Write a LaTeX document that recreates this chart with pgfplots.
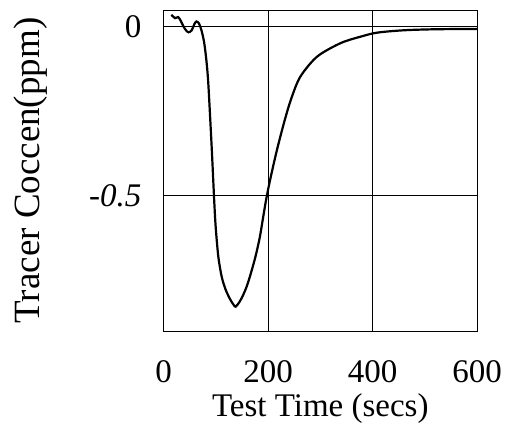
\documentclass[border=0pt]{standalone}
\usepackage{fontspec}
\setmainfont{Liberation Serif}
\usepackage{pgfplots}
\pgfplotsset{compat=1.18}
\begin{document}
\begin{tikzpicture}
\begin{axis}[
  scale only axis, width=313.5bp, height=321bp,
  xmin=0, xmax=600, ymin=-0.9, ymax=0.05,
  xtick={0,200,400,600}, ytick={-0.5,0},
  xticklabels={0,200,400,600}, yticklabels={\textit{-0.5},0},
  major tick length=0pt,
  grid=major, grid style={black, line width=0.8bp},
  axis line style={black, line width=0.9bp},
  tick label style={font=\fontsize{33bp}{38bp}\selectfont, inner sep=0pt},
  xticklabel style={anchor=north, yshift=-29bp},
  yticklabel style={anchor=east, xshift=-22bp},
  xlabel={Test Time (secs)},
  ylabel={Tracer Coccen(ppm)},
  xlabel style={font=\fontsize{33bp}{38bp}\selectfont, inner sep=0pt, at={(axis description cs:0.5,0)}, anchor=north, yshift=-62bp},
  ylabel style={font=\fontsize{37bp}{42bp}\selectfont, inner sep=0pt, at={(axis description cs:0,0.5)}, anchor=center, yshift=133bp},
]
\addplot[black, line width=2.2bp, smooth, tension=0.5] coordinates {
(15,0.036) (22,0.026) (28,0.029) (33,0.018) (38,0.002) (43,-0.010) (48,-0.016)
(54,-0.010) (59,0.008) (63,0.016) (68,0.010) (73,-0.012) (78,-0.048) (82,-0.098)
(85,-0.150) (87.5,-0.216) (92.5,-0.365) (97,-0.513) (100,-0.595)
(105,-0.681) (111.5,-0.740) (119,-0.778) (127.5,-0.806) (134,-0.822) (138,-0.828)
(145,-0.815) (152,-0.795) (160,-0.765) (168,-0.725) (176,-0.680)
(184,-0.625) (190,-0.570) (196,-0.515) (204,-0.453) (217,-0.365) (232,-0.276)
(245,-0.21) (262,-0.147) (294,-0.088) (339,-0.048) (377,-0.029) (409,-0.017)
(460,-0.010) (520,-0.007) (600,-0.006)
};
\end{axis}
\pgfresetboundingbox
\path ([xshift=-163.5bp,yshift=-112bp]current axis.south west) rectangle ([xshift=28bp,yshift=10bp]current axis.north east);
\end{tikzpicture}
\end{document}
